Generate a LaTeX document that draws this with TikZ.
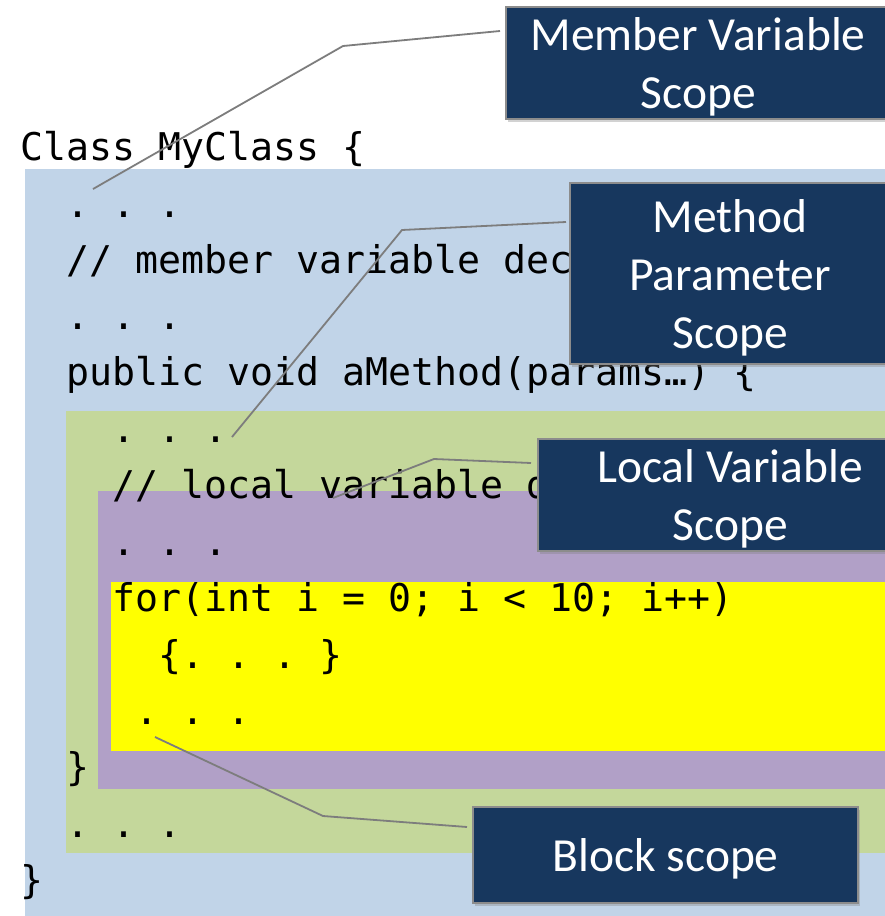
\documentclass[tikz,border=0pt]{standalone}
\usepackage{fontspec}
\usetikzlibrary{shadows}
\newfontfamily\codefont{DejaVu Sans Mono}
\newfontfamily\boxfont{Carlito}
\definecolor{bgblue}{RGB}{193,212,232}
\definecolor{bggreen}{RGB}{196,215,155}
\definecolor{bgpurple}{RGB}{177,160,199}
\definecolor{bgyellow}{RGB}{255,255,0}
\definecolor{navy}{RGB}{23,55,94}
\definecolor{boxedge}{RGB}{140,140,140}
\definecolor{leadgray}{RGB}{125,125,125}
\frenchspacing
\newcommand\boxstrut{\rule{0pt}{41pt}}
\begin{document}
\begin{tikzpicture}[x=1pt,y=-1pt,
  code/.style={anchor=base west, inner sep=0pt, font=\codefont\fontsize{38.2}{46}\selectfont\frenchspacing},
  callout/.style={anchor=north west, fill=navy, draw=boxedge, line width=2.2pt,
    text=white, align=center, inner sep=0pt,
    font=\boxfont\fontsize{47.5}{58}\selectfont,
    drop shadow={shadow xshift=2pt, shadow yshift=-3pt, opacity=0.35}},
  leader/.style={draw=leadgray, line width=1.8pt}]
\useasboundingbox (0,0) rectangle (885,916);
\clip (0,0) rectangle (885,916);
\fill[white] (0,0) rectangle (885,916);
% scope backgrounds
\fill[bgblue] (25,169) rectangle (890,920);
\fill[bggreen] (66,411) rectangle (890,853);
\fill[bgpurple] (98,491) rectangle (890,789);
\fill[bgyellow] (111,582) rectangle (890,751);
% code
\node[code] (l0) at (20,160) {Class MyClass \{};
\node[code] (l1) at (66,217) {. . .};
\node[code] (l2) at (66,273) {// member variable dec};
\node[code] (l3) at (66,329) {. . .};
\node[code] (l4) at (66,385) {public void aMethod(params…) \{};
\node[code] (l5) at (112,442) {. . .};
\node[code] (l6) at (112,498) {// local variable d};
\node[code] (l7) at (112,555) {. . .};
\node[code] (l8) at (112,611) {for(int i = 0; i < 10; i++)};
\node[code] (l9) at (158,668) {\{. . . \}};
\node[code] (l10) at (135,724) {. . .};
\node[code] (l11) at (66,780) {\}};
\node[code] (l12) at (66,837) {. . .};
\node[code] (l13) at (20,893) {\}};
% callouts
\node[callout, minimum width=384pt, minimum height=112pt] (mvs) at (505,6) {\boxstrut Member Variable\\Scope};
\node[callout, minimum width=320pt, minimum height=181pt] (mps) at (569,182) {\boxstrut Method\\Parameter\\Scope};
\node[callout, minimum width=384pt, minimum height=112pt] (lvs) at (537,438) {\boxstrut Local Variable\\Scope};
\node[callout, minimum width=385pt, minimum height=96pt] (bs) at (472,806) {\boxstrut Block scope};
% leader lines
\coordinate (mvsEnd) at (93,189);
\coordinate (mvsBend) at (343,46);
\coordinate (mpsEnd) at (232,437);
\coordinate (mpsBend) at (402,230);
\coordinate (lvsEnd) at (333,498);
\coordinate (lvsBend) at (434,459);
\coordinate (bsEnd) at (155,737);
\coordinate (bsBend) at (323,816);
\draw[leader] (mvsEnd) -- (mvsBend) -- ([xshift=-5pt,yshift=-25pt]mvs.north west);
\draw[leader] (mpsEnd) -- (mpsBend) -- ([xshift=-3pt,yshift=-40pt]mps.north west);
\draw[leader] (lvsEnd) -- (lvsBend) -- ([xshift=-6pt,yshift=-25pt]lvs.north west);
\draw[leader] (bsEnd) -- (bsBend) -- ([xshift=-5pt,yshift=-21pt]bs.north west);
\end{tikzpicture}
\end{document}
